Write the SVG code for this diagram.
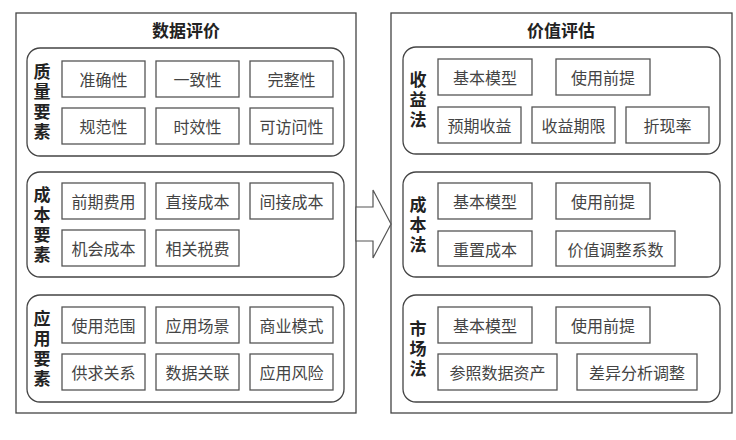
<svg xmlns="http://www.w3.org/2000/svg" width="736" height="440" viewBox="0 0 736 440">
<style>
.outer{fill:#fff;stroke:#444;stroke-width:1.3}
.grp{fill:#fff;stroke:#444;stroke-width:1.3}
.box{fill:#fff;stroke:#555;stroke-width:1.3}
.t{font-family:"Noto Sans CJK SC","Noto Sans CJK JP",sans-serif;font-size:16px;fill:#444;text-anchor:middle;dominant-baseline:central}
.ti{font-family:"Noto Sans CJK SC","Noto Sans CJK JP",sans-serif;font-size:17px;font-weight:bold;fill:#222;text-anchor:middle;dominant-baseline:central}
.lb{font-family:"Noto Sans CJK SC","Noto Sans CJK JP",sans-serif;font-size:17px;font-weight:bold;fill:#222;text-anchor:middle;writing-mode:vertical-rl;letter-spacing:3px}
.arrow{fill:#fff;stroke:#555;stroke-width:1.2}
</style>
<rect width="736" height="440" fill="#fff"/>
<g id="data-eval">
<rect class="outer" x="16" y="13" width="340" height="400"/>
<text class="ti" x="186" y="29">数据评价</text>
</g>
<g id="quality">
<rect class="grp" x="27" y="48" width="317" height="108" rx="13"/>
<text class="lb" x="42" y="103.5">质量要素</text>
</g>
<g id="q1"><rect class="box" x="62" y="61" width="83" height="36"/><text class="t" x="103.5" y="79">准确性</text></g>
<g id="q2"><rect class="box" x="156" y="61" width="83" height="36"/><text class="t" x="197.5" y="79">一致性</text></g>
<g id="q3"><rect class="box" x="250" y="61" width="83" height="36"/><text class="t" x="291.5" y="79">完整性</text></g>
<g id="q4"><rect class="box" x="62" y="108" width="83" height="36"/><text class="t" x="103.5" y="126">规范性</text></g>
<g id="q5"><rect class="box" x="156" y="108" width="83" height="36"/><text class="t" x="197.5" y="126">时效性</text></g>
<g id="q6"><rect class="box" x="250" y="108" width="83" height="36"/><text class="t" x="291.5" y="126">可访问性</text></g>
<g id="cost">
<rect class="grp" x="27" y="172" width="317" height="105" rx="13"/>
<text class="lb" x="42" y="226.5">成本要素</text>
</g>
<g id="c1"><rect class="box" x="62" y="183" width="83" height="36"/><text class="t" x="103.5" y="201">前期费用</text></g>
<g id="c2"><rect class="box" x="156" y="183" width="83" height="36"/><text class="t" x="197.5" y="201">直接成本</text></g>
<g id="c3"><rect class="box" x="250" y="183" width="83" height="36"/><text class="t" x="291.5" y="201">间接成本</text></g>
<g id="c4"><rect class="box" x="62" y="230" width="83" height="36"/><text class="t" x="103.5" y="248">机会成本</text></g>
<g id="c5"><rect class="box" x="156" y="230" width="83" height="36"/><text class="t" x="197.5" y="248">相关税费</text></g>
<g id="app">
<rect class="grp" x="27" y="295" width="317" height="107" rx="13"/>
<text class="lb" x="42" y="350.5">应用要素</text>
</g>
<g id="a1"><rect class="box" x="62" y="307" width="83" height="36"/><text class="t" x="103.5" y="325">使用范围</text></g>
<g id="a2"><rect class="box" x="156" y="307" width="83" height="36"/><text class="t" x="197.5" y="325">应用场景</text></g>
<g id="a3"><rect class="box" x="250" y="307" width="83" height="36"/><text class="t" x="291.5" y="325">商业模式</text></g>
<g id="a4"><rect class="box" x="62" y="354" width="83" height="36"/><text class="t" x="103.5" y="372">供求关系</text></g>
<g id="a5"><rect class="box" x="156" y="354" width="83" height="36"/><text class="t" x="197.5" y="372">数据关联</text></g>
<g id="a6"><rect class="box" x="250" y="354" width="83" height="36"/><text class="t" x="291.5" y="372">应用风险</text></g>

<g id="value-eval">
<rect class="outer" x="391" y="13" width="341" height="400"/>
<text class="ti" x="561" y="29">价值评估</text>
</g>
<g id="income">
<rect class="grp" x="403" y="47" width="317" height="107" rx="13"/>
<text class="lb" x="418" y="101.5">收益法</text>
</g>
<g id="i1"><rect class="box" x="438" y="59" width="94" height="36"/><text class="t" x="485" y="77">基本模型</text></g>
<g id="i2"><rect class="box" x="556" y="59" width="94" height="36"/><text class="t" x="603" y="77">使用前提</text></g>
<g id="i3"><rect class="box" x="438" y="107" width="83" height="36"/><text class="t" x="479.5" y="125">预期收益</text></g>
<g id="i4"><rect class="box" x="532" y="107" width="83" height="36"/><text class="t" x="573.5" y="125">收益期限</text></g>
<g id="i5"><rect class="box" x="626" y="107" width="83" height="36"/><text class="t" x="667.5" y="125">折现率</text></g>
<g id="costm">
<rect class="grp" x="403" y="172" width="317" height="105" rx="13"/>
<text class="lb" x="418" y="226.5">成本法</text>
</g>
<g id="m1"><rect class="box" x="438" y="183" width="94" height="36"/><text class="t" x="485" y="201">基本模型</text></g>
<g id="m2"><rect class="box" x="556" y="183" width="94" height="36"/><text class="t" x="603" y="201">使用前提</text></g>
<g id="m3"><rect class="box" x="438" y="231" width="94" height="35"/><text class="t" x="485" y="248.5">重置成本</text></g>
<g id="m4"><rect class="box" x="556" y="231" width="119" height="35"/><text class="t" x="615.5" y="248.5">价值调整系数</text></g>
<g id="market">
<rect class="grp" x="403" y="295" width="317" height="107" rx="13"/>
<text class="lb" x="418" y="350">市场法</text>
</g>
<g id="k1"><rect class="box" x="438" y="307" width="94" height="36"/><text class="t" x="485" y="325">基本模型</text></g>
<g id="k2"><rect class="box" x="556" y="307" width="94" height="36"/><text class="t" x="603" y="325">使用前提</text></g>
<g id="k3"><rect class="box" x="438" y="354" width="119" height="36"/><text class="t" x="497.5" y="372">参照数据资产</text></g>
<g id="k4"><rect class="box" x="577" y="354" width="120" height="36"/><text class="t" x="637" y="372">差异分析调整</text></g>

<g id="connectors">
<polygon class="arrow" points="356,207 373,207 373,190 391,224 373,258 373,241 356,241"/>
</g>
</svg>
